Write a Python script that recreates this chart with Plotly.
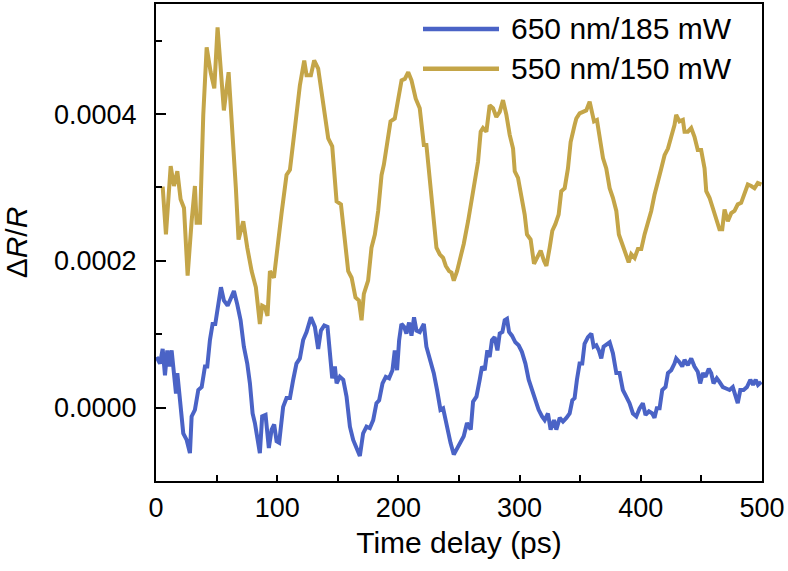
import plotly.graph_objects as go

# Time delay (ps) and dR/R (in units of 1e-4)
SCALE = 1e-4

t_550 = [5.5, 8.2, 12.1, 14.8, 17.6, 20.3, 23.1, 26.1, 29.4, 32.1, 33.5, 36.3, 39.0, 41.8, 45.1, 48.1,
         50.8, 53.3, 56.0, 59.9, 63.2, 65.9, 68.1, 72.0, 75.3, 78.9, 82.4, 85.7, 87.6, 89.9, 92.0, 94.0,
         97.3, 100.3, 103.6, 107.7, 110.5, 114.6, 118.7, 122.3, 124.2, 127.8, 130.5, 133.8, 137.9, 142.1,
         145.4, 149.0, 152.6, 155.8, 158.6, 161.4, 164.6, 167.4, 169.6, 171.5, 175.0, 177.8, 180.6, 183.3,
         186.1, 188.0, 190.2, 193.5, 197.0, 199.8, 202.6, 205.3, 208.1, 210.8, 214.3, 217.6, 221.0, 223.1,
         225.9, 228.6, 231.4, 234.1, 236.9, 239.1, 241.8, 243.8, 245.7, 248.4, 251.2, 253.9, 257.5, 260.2,
         263.0, 265.7, 267.9, 269.8, 272.6, 275.3, 278.1, 280.8, 283.6, 286.3, 289.1, 291.8, 294.6, 296.0,
         298.7, 301.5, 304.2, 306.1, 309.1, 311.9, 314.6, 317.4, 320.1, 322.1, 324.8, 327.0, 329.5, 332.2,
         334.4, 337.2, 339.9, 342.1, 345.4, 346.8, 349.5, 352.3, 355.0, 357.8, 360.0, 361.4, 363.8, 366.0,
         368.8, 371.5, 374.3, 377.0, 379.8, 381.9, 384.8, 387.5, 390.0, 392.1, 394.9, 397.6, 400.4, 403.1,
         405.8, 408.6, 411.3, 414.1, 416.9, 419.6, 422.4, 425.1, 427.8, 429.2, 431.9, 434.7, 436.1, 438.8,
         441.6, 444.3, 447.0, 449.8, 452.6, 454.0, 456.7, 459.4, 462.2, 464.9, 467.2, 469.1, 471.8, 474.6,
         477.3, 480.0, 482.8, 485.5, 488.3, 491.1, 493.8, 496.5, 499.5]
v_550 = [3.01, 2.36, 3.29, 3.02, 3.22, 2.84, 2.72, 1.80, 2.54, 3.02, 2.52, 2.52, 3.99, 4.91, 4.57, 4.35,
         5.18, 4.66, 4.05, 4.57, 3.76, 2.99, 2.29, 2.54, 2.18, 1.86, 1.64, 1.14, 1.39, 1.37, 1.25, 1.86,
         1.77, 2.25, 2.65, 3.17, 3.24, 3.81, 4.39, 4.73, 4.53, 4.53, 4.73, 4.62, 4.12, 3.67,
         3.56, 2.81, 2.77, 2.32, 1.86, 1.77, 1.50, 1.46, 1.19, 1.55, 1.73, 2.18, 2.36, 2.68,
         3.17, 3.31, 3.53, 3.90, 3.94, 4.21, 4.46, 4.48, 4.57, 4.46, 4.21, 4.08, 3.58, 3.58,
         3.13, 2.63, 2.18, 2.09, 2.04, 1.93, 1.86, 1.84, 1.73, 1.86, 2.04, 2.23, 2.54, 2.81,
         3.08, 3.35, 3.76, 3.81, 3.76, 4.12, 4.08, 3.96, 4.03, 4.19, 3.99, 3.72, 3.53, 3.22,
         3.13, 2.86, 2.63, 2.36, 2.29, 1.96, 2.04, 2.14, 2.00, 1.93, 2.18, 2.41, 2.50, 2.63,
         2.95, 2.99, 3.26, 3.62, 3.85, 3.94, 4.01, 4.03, 4.05, 4.17, 4.03, 3.90, 3.92, 3.72,
         3.40, 3.26, 2.99, 2.86, 2.68, 2.36, 2.23, 2.09, 1.98, 2.09, 2.04, 2.16, 2.16, 2.36,
         2.50, 2.68, 2.90, 3.06, 3.26, 3.44, 3.53, 3.69, 3.85, 3.99, 3.90, 3.92, 3.76, 3.76,
         3.81, 3.69, 3.51, 3.51, 3.26, 2.95, 2.86, 2.72, 2.59, 2.43, 2.43, 2.70, 2.54, 2.65,
         2.68, 2.77, 2.79, 2.90, 3.04, 3.02, 2.99, 3.06, 3.04]

t_650 = [0.5, 3.3, 5.5, 7.4, 9.3, 11.0, 12.9, 14.8, 16.5, 17.6, 19.8, 22.5, 25.3, 28.0, 29.4, 32.1,
         34.9, 37.7, 40.4, 42.3, 44.5, 46.7, 48.9, 51.1, 53.6, 56.0, 59.1, 61.5, 64.3, 67.0, 69.8, 72.5,
         75.3, 77.5, 79.7, 81.6, 83.5, 85.7, 87.6, 90.4, 93.1, 95.4, 97.5, 99.5, 101.6, 104.9, 107.7, 110.5,
         113.2, 115.9, 118.7, 121.4, 124.2, 127.8, 131.1, 133.8, 136.1, 138.8, 141.5, 143.4, 145.4, 147.6,
         149.0, 151.7, 154.5, 157.2, 160.0, 162.7, 165.5, 168.2, 170.9, 173.7, 176.4, 179.2, 181.9, 184.1,
         186.9, 189.6, 192.3, 195.1, 197.0, 198.9, 200.6, 202.5, 204.7, 206.6, 208.8, 210.8, 212.9, 214.9,
         217.6, 221.0, 223.1, 226.4, 229.2, 231.9, 234.7, 236.9, 240.2, 243.0, 245.7, 248.4, 251.2, 253.9,
         256.6, 259.7, 261.6, 264.4, 267.1, 269.0, 271.2, 273.4, 275.3, 277.2, 279.4, 281.7, 283.6, 285.8,
         287.7, 289.6, 291.3, 293.7, 296.5, 299.2, 301.9, 304.8, 307.5, 310.2, 313.0, 315.7, 318.5, 320.7,
         323.4, 325.6, 328.4, 330.3, 333.1, 335.8, 338.6, 341.3, 343.5, 345.4, 347.3, 349.5, 351.7, 353.6,
         356.4, 359.2, 361.1, 363.3, 365.4, 367.4, 369.3, 371.5, 374.3, 377.0, 379.8, 382.5, 385.2, 388.0,
         390.7, 393.5, 396.3, 399.0, 401.7, 403.9, 406.7, 409.5, 411.3, 413.2, 415.5, 417.7, 420.4, 422.4,
         425.1, 427.8, 429.2, 431.9, 434.2, 436.1, 438.8, 441.6, 444.3, 447.0, 449.0, 451.2, 453.4, 456.1,
         458.1, 460.0, 462.7, 464.9, 467.7, 470.4, 473.2, 475.9, 478.2, 480.0, 482.1, 484.8, 487.6, 490.4,
         492.6, 494.8, 496.7, 499.5]
v_650 = [0.69, 0.60, 0.80, 0.44, 0.78, 0.56, 0.78, 0.51, 0.19, 0.47, 0.15, -0.35, -0.44, -0.62, -0.12, -0.03,
         0.24, 0.28, 0.56, 0.56, 0.92, 1.14, 1.14, 1.41, 1.64, 1.46, 1.39, 1.48, 1.59, 1.41, 1.19, 0.83,
         0.60, 0.33, -0.08, -0.21, -0.39, -0.62, -0.12, -0.10, -0.55, -0.30, -0.23, -0.46, -0.48, 0.01, 0.13, 0.13,
         0.38, 0.60, 0.67, 0.92, 1.03, 1.23, 1.10, 0.80, 1.05, 1.12, 1.10, 0.74, 0.40, 0.56,
         0.33, 0.42, 0.38, 0.15, -0.26, -0.44, -0.57, -0.66, -0.35, -0.26, -0.28, -0.17, 0.06, 0.10,
         0.33, 0.42, 0.40, 0.51, 0.78, 0.51, 0.92, 1.14, 1.10, 1.01, 1.16, 0.98, 1.23, 1.05,
         1.03, 1.14, 0.83, 0.65, 0.47, 0.24, -0.03, -0.01, -0.30, -0.48, -0.64, -0.55, -0.48, -0.39,
         -0.21, -0.30, 0.08, 0.15, 0.38, 0.56, 0.51, 0.78, 0.69, 0.92, 0.96, 0.78, 1.01, 1.03,
         1.19, 1.21, 1.03, 0.98, 0.89, 0.85, 0.76, 0.60, 0.38, 0.24, 0.10, -0.03, -0.12, -0.17,
         -0.08, -0.30, -0.17, -0.30, -0.14, -0.19, -0.14, -0.08, 0.10, 0.13, 0.38, 0.60, 0.60, 0.87,
         0.96, 1.01, 0.83, 0.85, 0.78, 0.67, 0.83, 0.85, 0.89, 0.74, 0.47, 0.47, 0.24, 0.15,
         0.06, -0.08, -0.12, -0.01, 0.06, -0.10, -0.05, -0.08, -0.14, -0.01, -0.01, 0.24, 0.28, 0.47,
         0.51, 0.60, 0.67, 0.62, 0.56, 0.65, 0.58, 0.67, 0.56, 0.49, 0.33, 0.47, 0.42, 0.53,
         0.47, 0.33, 0.40, 0.35, 0.28, 0.26, 0.24, 0.28, 0.17, 0.06, 0.24, 0.24, 0.28, 0.38,
         0.31, 0.38, 0.31, 0.35]

series_names = ["650 nm/185 mW", "550 nm/150 mW"]
colors = ["#4A63C6", "#C4A548"]

x_range = [0, 500]
y_range = [-0.0001, 0.00055]
x_major_ticks = [0, 100, 200, 300, 400, 500]
x_minor_ticks = [50, 150, 250, 350, 450]
y_major_ticks = [0.0, 0.0002, 0.0004]
y_minor_ticks = [0.0001, 0.0003, 0.0005]
y_tick_labels = ["0.0000", "0.0002", "0.0004"]

FONT = "Liberation Sans, Arial, sans-serif"

fig = go.Figure()
fig.add_trace(go.Scatter(x=t_650, y=[v * SCALE for v in v_650], mode="lines",
                         line=dict(color=colors[0], width=4), name=series_names[0], showlegend=False))
fig.add_trace(go.Scatter(x=t_550, y=[v * SCALE for v in v_550], mode="lines",
                         line=dict(color=colors[1], width=4), name=series_names[1], showlegend=False))
# empty traces to carry the tick overlay axes (minor: x2/y2, major: x3/y3)
fig.add_trace(go.Scatter(x=[], y=[], xaxis="x2", yaxis="y2", showlegend=False, hoverinfo="skip"))
fig.add_trace(go.Scatter(x=[], y=[], xaxis="x3", yaxis="y3", showlegend=False, hoverinfo="skip"))

# Custom legend (long line samples)
W, H = 788, 571
ml, mr, mt, mb = 156, 26, 2, 90
pw, ph = W - ml - mr, H - mt - mb

def px_x(x):
    return (x - ml) / pw

def px_y(y):
    return 1 - (y - mt) / ph

for i, (name, col) in enumerate(zip(series_names, colors)):
    yy = 27 + 40 * i
    fig.add_shape(type="line", xref="paper", yref="paper",
                  x0=px_x(423), x1=px_x(499), y0=px_y(yy), y1=px_y(yy),
                  line=dict(color=col, width=4.5))
    fig.add_annotation(xref="paper", yref="paper", x=px_x(509), y=px_y(yy),
                       xanchor="left", yanchor="middle", showarrow=False,
                       text=name, font=dict(family=FONT, size=30, color="black"))

def tick_axis(rng, overlay, anchor, side, vals, length):
    return dict(range=rng, overlaying=overlay, anchor=anchor, side=side,
                tickmode="array", tickvals=vals,
                ticks="inside", ticklen=length, tickwidth=2, tickcolor="black",
                showticklabels=False, showline=False, showgrid=False, zeroline=False)

fig.update_layout(
    width=W, height=H,
    margin=dict(l=ml, r=mr, t=mt, b=mb),
    paper_bgcolor="white", plot_bgcolor="white",
    font=dict(family=FONT, size=27, color="black"),
    xaxis=dict(range=x_range, tickmode="array", tickvals=x_major_ticks,
               ticks="", showline=True, linecolor="black", linewidth=2, mirror=True,
               showgrid=False, zeroline=False,
               tickfont=dict(size=27), ticklabelstandoff=2,
               title=dict(text="Time delay (ps)", font=dict(size=30), standoff=10)),
    yaxis=dict(range=y_range, tickmode="array", tickvals=y_major_ticks, ticktext=y_tick_labels,
               ticks="",
               showline=True, linecolor="black", linewidth=2, mirror=True,
               showgrid=False, zeroline=False,
               tickfont=dict(size=27), ticklabelstandoff=12,
               title=dict(text="Δ<i>R</i>/<i>R</i>", font=dict(size=30), standoff=18)),
    xaxis2=tick_axis(x_range, "x", "y", "bottom", x_minor_ticks, 6),
    yaxis2=tick_axis(y_range, "y", "x", "left", y_minor_ticks, 6),
    xaxis3=tick_axis(x_range, "x", "y", "bottom", x_major_ticks, 6),
    yaxis3=tick_axis(y_range, "y", "x", "left", y_major_ticks, 10),
)

fig.write_html("out.html", config={"displayModeBar": False},
               post_script="document.body.style.margin='0px';document.body.style.padding='0px';")
